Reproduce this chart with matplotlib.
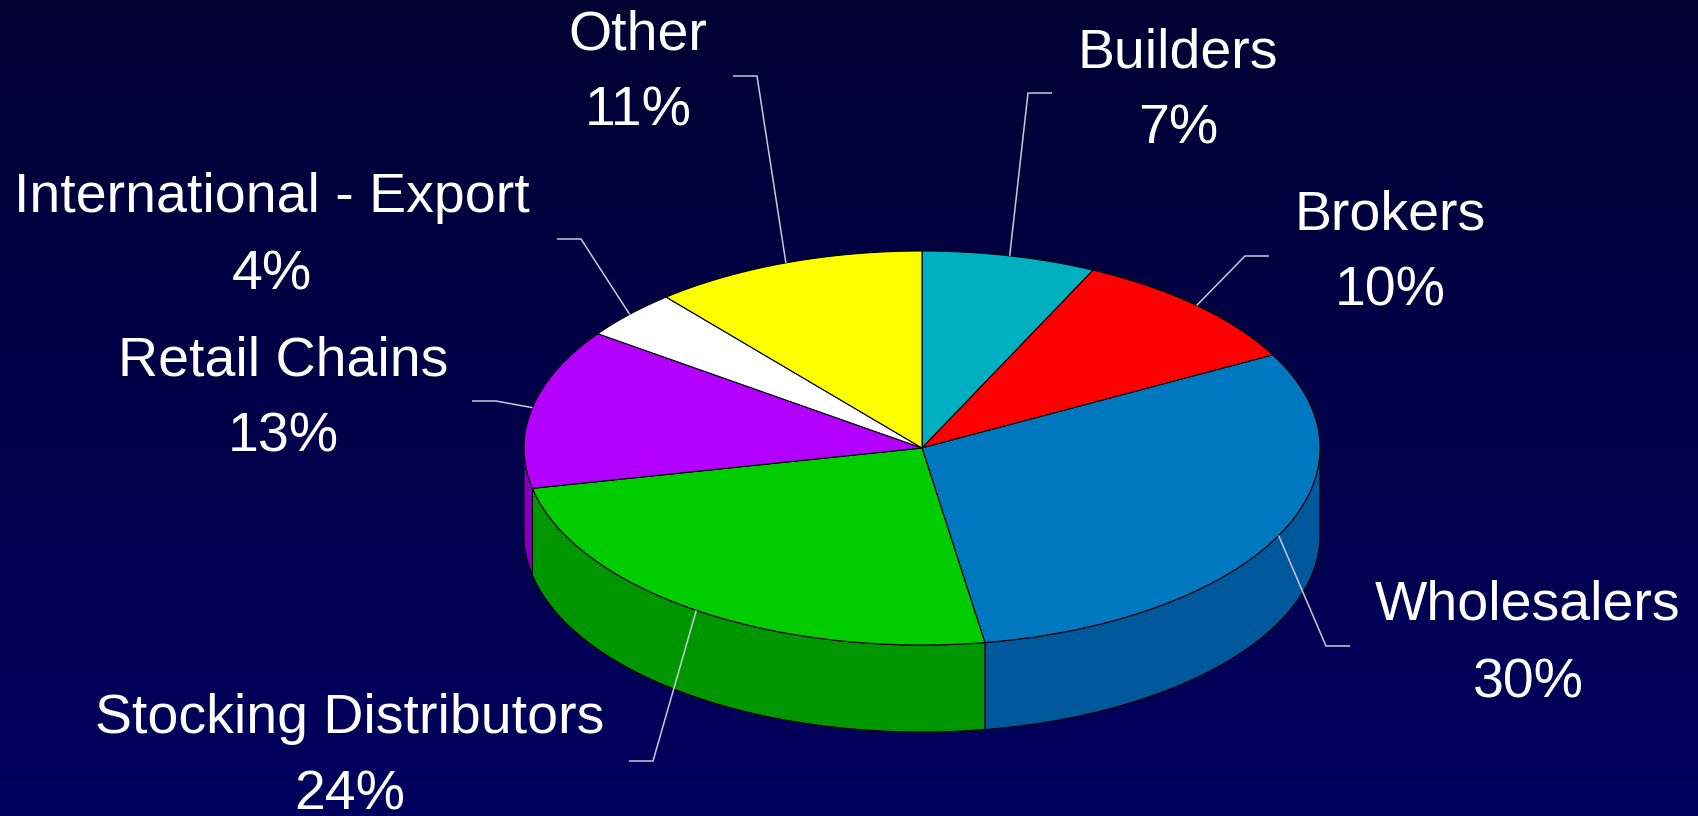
import numpy as np
import matplotlib
matplotlib.use('Agg')
import matplotlib.pyplot as plt
from matplotlib.patches import Polygon
from matplotlib.colors import LinearSegmentedColormap

# data
categories = ['Builders', 'Brokers', 'Wholesalers', 'Stocking Distributors',
              'Retail Chains', 'International - Export', 'Other']
shares = [7, 10, 30, 24, 13, 4, 11]

top_colors = ['#00b0c0', '#ff0000', '#0078c0', '#00cc00', '#b400ff', '#ffffff', '#ffff00']
side_colors = ['#00808c', '#b00000', '#00589c', '#009600', '#8400bc', '#c0c0c0', '#c0c000']

# label layout (pixels): centre x, baseline of name, baseline of percent
label_pos = [(1178, 67, 143), (1390, 229, 306), (1528, 620, 697), (350, 733, 810),
             (283, 375, 452), (272, 212, 289), (638, 50, 126)]
# leader elbow (x, y) and which way the short horizontal tick points
elbows = [(1028, 93, 1), (1245, 256, 1), (1326, 646, 1), (653, 761, -1),
          (496, 401, -1), (581, 239, -1), (757, 76, -1)]

W, H = 1699, 816
cx, cy = 922, 448      # centre of top face
rx, ry = 398, 197      # ellipse radii
depth = 87             # thickness of the pie


def pt(theta, dz=0.0):
    # theta in degrees, clockwise from 12 o'clock
    t = np.radians(theta)
    return cx + rx * np.sin(t), cy - ry * np.cos(t) + dz


def arc(t0, t1, dz=0.0):
    n = max(int(abs(t1 - t0)) * 2, 4)
    ts = np.linspace(t0, t1, n)
    x, y = pt(ts, dz)
    return np.column_stack([x, y])


fig = plt.figure(figsize=(W / 100, H / 100), dpi=100)
ax = fig.add_axes([0, 0, 1, 1])

bg = LinearSegmentedColormap.from_list('bg', ['#000033', '#00005f'])
grad = np.linspace(0, 1, 256).reshape(-1, 1)
ax.imshow(grad, extent=[0, W, H, 0], aspect='auto', cmap=bg, zorder=0)
ax.set_xlim(0, W)
ax.set_ylim(H, 0)
ax.axis('off')

vals = np.array(shares, dtype=float)
bounds = np.concatenate([[0], np.cumsum(vals) / vals.sum() * 360])

# side walls (only the front half is visible)
for i in range(len(vals)):
    a = max(bounds[i], 90)
    b = min(bounds[i + 1], 270)
    if a >= b:
        continue
    verts = np.vstack([arc(a, b), arc(b, a, depth)])
    ax.add_patch(Polygon(verts, closed=True, facecolor=side_colors[i],
                         edgecolor='black', lw=0.8, zorder=1))

# top face
for i in range(len(vals)):
    verts = np.vstack([[cx, cy], arc(bounds[i], bounds[i + 1])])
    ax.add_patch(Polygon(verts, closed=True, facecolor=top_colors[i],
                         edgecolor='black', lw=0.8, zorder=2))

# leader lines and labels
for i, name in enumerate(categories):
    mid = (bounds[i] + bounds[i + 1]) / 2
    px, py = pt(mid)
    ex, ey, d = elbows[i]
    ax.plot([px, ex, ex + d * 24], [py, ey, ey], color='#c8c8d8', lw=1.1,
            zorder=3, solid_capstyle='butt')
    x, y1, y2 = label_pos[i]
    ax.text(x, y1, name, ha='center', va='baseline', color='white',
            fontsize=40, family='Liberation Sans', zorder=4)
    ax.text(x, y2, f'{shares[i]}%', ha='center', va='baseline', color='white',
            fontsize=40, family='Liberation Sans', zorder=4)

fig.savefig('out.png', dpi=100)
